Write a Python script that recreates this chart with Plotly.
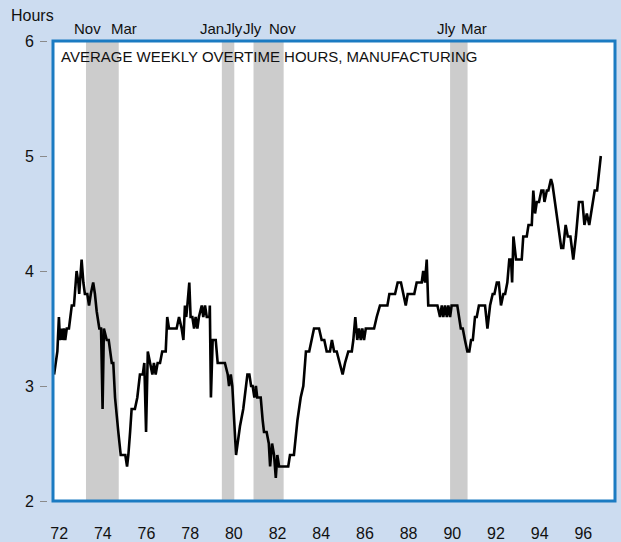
import plotly.graph_objects as go

# Average weekly overtime hours, manufacturing (decimal year, hours)
fechas = [
    1972.37, 1972.52, 1972.59, 1972.64, 1972.72, 1972.76, 1972.82, 1972.88, 1972.95, 1973.05,
    1973.18, 1973.28, 1973.40, 1973.48, 1973.52, 1973.63, 1973.71, 1973.78, 1973.89, 1973.97,
    1974.05, 1974.16, 1974.24, 1974.32, 1974.44, 1974.52, 1974.59, 1974.65, 1974.78, 1974.87,
    1975.01, 1975.08, 1975.16, 1975.24, 1975.31, 1975.42, 1975.54, 1975.63, 1975.71, 1975.77,
    1975.85, 1975.92, 1976.07, 1976.18, 1976.30, 1976.43, 1976.50, 1976.58, 1976.66, 1976.76,
    1976.87, 1976.94, 1977.02, 1977.11, 1977.22, 1977.32, 1977.48, 1977.55, 1977.63, 1977.98,
    1978.09, 1978.21, 1978.29, 1978.36, 1978.42, 1978.47, 1978.56, 1978.62, 1978.70, 1978.78,
    1978.85, 1978.93, 1979.00, 1979.13, 1979.20, 1979.28, 1979.36, 1979.48, 1979.50, 1979.55,
    1979.63, 1979.77, 1979.86, 1980.19, 1980.32, 1980.38, 1980.46, 1980.53, 1980.62, 1980.70,
    1980.88, 1981.03, 1981.22, 1981.31, 1981.39, 1981.46, 1981.54, 1981.61, 1981.67, 1981.83,
    1981.92, 1981.98, 1982.10, 1982.20, 1982.26, 1982.35, 1982.44, 1982.52, 1982.59, 1982.67,
    1983.09, 1983.17, 1983.35, 1983.51, 1983.66, 1983.78, 1983.90, 1984.05, 1984.27, 1984.50,
    1984.62, 1984.74, 1984.85, 1985.00, 1985.09, 1985.19, 1985.31, 1985.43, 1985.58, 1985.69,
    1985.84, 1986.00, 1986.07, 1986.16, 1986.25, 1986.33, 1986.41, 1986.48, 1986.56, 1986.64,
    1987.02, 1987.14, 1987.29, 1987.63, 1987.72, 1987.98, 1988.10, 1988.25, 1988.36, 1988.47,
    1988.56, 1988.86, 1988.97, 1989.20, 1989.27, 1989.35, 1989.43, 1989.50, 1989.92, 1990.04,
    1990.12, 1990.19, 1990.27, 1990.35, 1990.42, 1990.50, 1990.57, 1990.83, 1990.99, 1991.08,
    1991.18, 1991.29, 1991.38, 1991.46, 1991.54, 1991.64, 1991.72, 1991.82, 1992.10, 1992.21,
    1992.33, 1992.45, 1992.53, 1992.64, 1992.73, 1992.83, 1992.94, 1993.02, 1993.12, 1993.21,
    1993.29, 1993.34, 1993.40, 1993.52, 1993.78, 1993.85, 1994.01, 1994.09, 1994.24, 1994.31,
    1994.39, 1994.47, 1994.57, 1994.68, 1994.77, 1994.82, 1994.93, 1995.00, 1995.12, 1995.19,
    1995.30, 1995.43, 1995.59, 1995.68, 1995.79, 1995.89, 1996.01, 1996.14, 1996.26, 1996.40,
    1996.56, 1996.65, 1996.76, 1996.87, 1996.95, 1997.12, 1997.23, 1997.33, 1997.40,
]
horas = [
    3.1, 3.3, 3.6, 3.4, 3.5, 3.4, 3.5, 3.4, 3.5, 3.5,
    3.7, 3.7, 4.0, 3.9, 3.8, 4.1, 3.9, 3.8, 3.8, 3.7,
    3.8, 3.9, 3.8, 3.65, 3.5, 3.5, 2.8, 3.5, 3.4, 3.4,
    3.2, 3.2, 2.9, 2.7, 2.6, 2.4, 2.4, 2.4, 2.3, 2.4,
    2.6, 2.8, 2.8, 2.9, 3.1, 3.1, 3.2, 2.6, 3.3, 3.2,
    3.1, 3.2, 3.1, 3.2, 3.2, 3.3, 3.3, 3.6, 3.5, 3.5,
    3.6, 3.5, 3.4, 3.7, 3.6, 3.7, 3.9, 3.6, 3.6, 3.5,
    3.6, 3.5, 3.6, 3.7, 3.6, 3.7, 3.6, 3.6, 3.7, 2.9,
    3.4, 3.4, 3.2, 3.2, 3.1, 3.0, 3.1, 3.0, 2.7, 2.4,
    2.65, 2.8, 3.1, 3.1, 3.0, 3.0, 2.9, 3.0, 2.9, 2.9,
    2.7, 2.6, 2.6, 2.5, 2.3, 2.5, 2.4, 2.2, 2.4, 2.3,
    2.3, 2.4, 2.4, 2.7, 2.9, 3.0, 3.3, 3.3, 3.5, 3.5,
    3.4, 3.4, 3.3, 3.3, 3.4, 3.3, 3.3, 3.2, 3.1, 3.2,
    3.3, 3.3, 3.4, 3.6, 3.4, 3.5, 3.4, 3.5, 3.4, 3.5,
    3.5, 3.6, 3.7, 3.7, 3.8, 3.8, 3.9, 3.9, 3.8, 3.7,
    3.8, 3.8, 3.9, 3.9, 4.0, 3.9, 4.1, 3.7, 3.7, 3.6,
    3.7, 3.6, 3.7, 3.6, 3.7, 3.6, 3.7, 3.7, 3.5, 3.5,
    3.4, 3.3, 3.3, 3.4, 3.4, 3.6, 3.6, 3.7, 3.7, 3.5,
    3.7, 3.8, 3.8, 3.9, 3.9, 3.7, 3.8, 3.8, 3.9, 4.1,
    4.1, 3.9, 4.3, 4.1, 4.1, 4.3, 4.3, 4.4, 4.4, 4.7,
    4.5, 4.6, 4.6, 4.7, 4.7, 4.6, 4.7, 4.7, 4.8, 4.75,
    4.6, 4.4, 4.2, 4.2, 4.4, 4.3, 4.3, 4.1, 4.3, 4.6,
    4.6, 4.4, 4.5, 4.4, 4.5, 4.7, 4.7, 4.9, 5.0,
]

# Recesiones (inicio, fin) y etiquetas
rec_inicio = [1973.83, 1980.05, 1981.50, 1990.50]
rec_fin    = [1975.33, 1980.62, 1982.88, 1991.30]
rec_etiq_ini = ['Nov', 'Jan', 'Jly', 'Jly']
rec_etiq_fin = ['Mar', 'Jly', 'Nov', 'Mar']

anios = list(range(1972, 1998, 2))
anios_txt = [str(a)[2:] for a in anios]
y_ticks = [2, 3, 4, 5, 6]

COLORS = {
    'fondo':  '#CCDCF0',
    'borde':  '#1B7BC2',
    'recesion': '#CCCCCC',
    'linea':  '#000000',
    'texto':  '#111111',
    'tick':   '#8A8A8A',
}
FONT = 'Liberation Sans, Arial, sans-serif'

W, H = 621, 542
ML, MR, MT, MB = 47, 6, 41, 41
pw = W - ML - MR
ph = H - MT - MB
dom0 = 6 / pw

fig = go.Figure()

fig.add_trace(go.Scatter(
    x=fechas, y=horas, mode='lines',
    line=dict(color=COLORS['linea'], width=2.6),
    showlegend=False, hoverinfo='skip',
))

# Sombreado de recesiones
for x0, x1, e0, e1, s0, s1 in zip(rec_inicio, rec_fin, rec_etiq_ini, rec_etiq_fin,
                                  [2, -10, -1, -4], [5, -1, -1, 6]):
    fig.add_shape(type='rect', xref='x', yref='paper', x0=x0, x1=x1, y0=0, y1=1,
                  fillcolor=COLORS['recesion'], line_width=0, layer='below')
    fig.add_annotation(x=x0, y=(ph + 13) / ph, xref='x', yref='paper', text=e0,
                       showarrow=False, xshift=s0, yshift=10,
                       font=dict(size=15, color=COLORS['texto']))
    fig.add_annotation(x=x1, y=(ph + 13) / ph, xref='x', yref='paper', text=e1,
                       showarrow=False, xshift=s1, yshift=10,
                       font=dict(size=15, color=COLORS['texto']))

# Marco azul
fig.add_shape(type='rect', xref='paper', yref='paper', x0=dom0, x1=1, y0=0, y1=1,
              line=dict(color=COLORS['borde'], width=3), layer='above')

fig.add_annotation(x=(59 - ML) / pw, y=(H - MB - 56) / ph,
                   xref='paper', yref='paper', xanchor='left', yanchor='middle',
                   text='AVERAGE WEEKLY OVERTIME HOURS, MANUFACTURING',
                   showarrow=False, font=dict(size=15, color=COLORS['texto']))
fig.add_annotation(x=(9 - ML) / pw, y=(H - MB - 16) / ph,
                   xref='paper', yref='paper', xanchor='left', yanchor='middle',
                   text='Hours', showarrow=False,
                   font=dict(size=16, color=COLORS['texto']))

fig.update_layout(
    width=W, height=H,
    margin=dict(l=ML, r=MR, t=MT, b=MB, autoexpand=False),
    paper_bgcolor=COLORS['fondo'],
    plot_bgcolor='white',
    font=dict(family=FONT, size=16, color=COLORS['texto']),
    showlegend=False,
    xaxis=dict(domain=[dom0, 1], range=[1972.32, 1998.05], automargin=False,
               tickvals=[a + 0.6 for a in anios], ticktext=anios_txt,
               ticks='', showgrid=False, zeroline=False, showline=False,
               ticklabelstandoff=21, tickfont=dict(size=16)),
    yaxis=dict(range=[2, 6], anchor='free', position=0, automargin=False,
               tickvals=y_ticks, ticks='outside', ticklen=7, tickwidth=1,
               tickcolor=COLORS['tick'], showgrid=False, zeroline=False,
               showline=False, ticklabelstandoff=3, tickfont=dict(size=16)),
)

fig.write_html("out.html",
               config={'displayModeBar': False},
               post_script="document.body.style.margin='0';"
                           "document.body.style.overflow='hidden';")
